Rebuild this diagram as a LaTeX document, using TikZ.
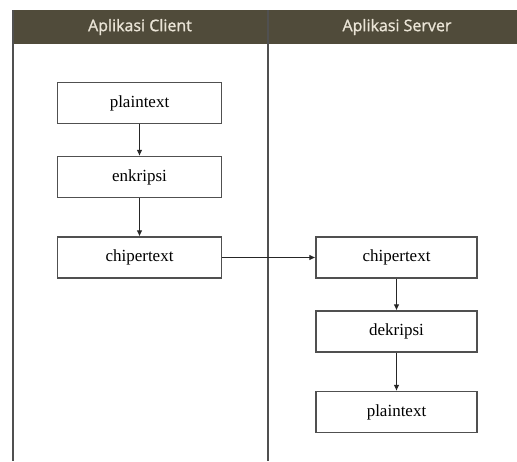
\documentclass[tikz,border=0pt]{standalone}
\usepackage{fontspec}
\setmainfont{Liberation Serif}
\newfontfamily\headfont[FakeBold=1.2]{Open Sans}
\usetikzlibrary{arrows.meta}
\definecolor{headbg}{HTML}{504B3A}
\definecolor{headfg}{HTML}{EAE4D6}
\definecolor{rule}{HTML}{505050}
\tikzset{
  procbox/.style={draw=rule, line width=1.2pt, fill=white, minimum width=164pt, minimum height=41pt,
    inner sep=0pt, font=\fontsize{17}{20}\selectfont},
  flow/.style={draw=black!85, line width=0.9pt, -{Latex[length=6pt,width=5.5pt]}},
  lane/.style={draw=rule, line width=1.3pt},
  headtxt/.style={text=headfg, font=\headfont\fontsize{16}{19}\selectfont}
}
\begin{document}
\begin{tikzpicture}[x=1pt,y=-1pt]
\useasboundingbox (0,0) rectangle (517,461);
% swimlane header band
\fill[headbg] (13,10) rectangle (517,44);
\draw[lane] (13,10) -- (13,461);
\draw[lane] (268,10) -- (268,461);
\node[headtxt] (hc) at (140,27) {Aplikasi Client};
\node[headtxt] (hs) at (397,27) {Aplikasi Server};
% client lane
\node[procbox] (p1) at (139.5,103) {plaintext};
\node[procbox] (e1) at (139.5,177) {enkripsi};
\node[procbox] (c1) at (139.5,257.5) {chipertext};
% server lane
\node[procbox, minimum width=161pt] (c2) at (396.5,257.5) {chipertext};
\node[procbox, minimum width=161pt] (d2) at (396.5,331.5) {dekripsi};
\node[procbox, minimum width=161pt] (p2) at (396.5,412) {plaintext};
% flow
\draw[flow] (p1) -- (e1);
\draw[flow] (e1) -- (c1);
\draw[flow] (c1) -- (c2);
\draw[flow] (c2) -- (d2);
\draw[flow] (d2) -- (p2);
\end{tikzpicture}
\end{document}
